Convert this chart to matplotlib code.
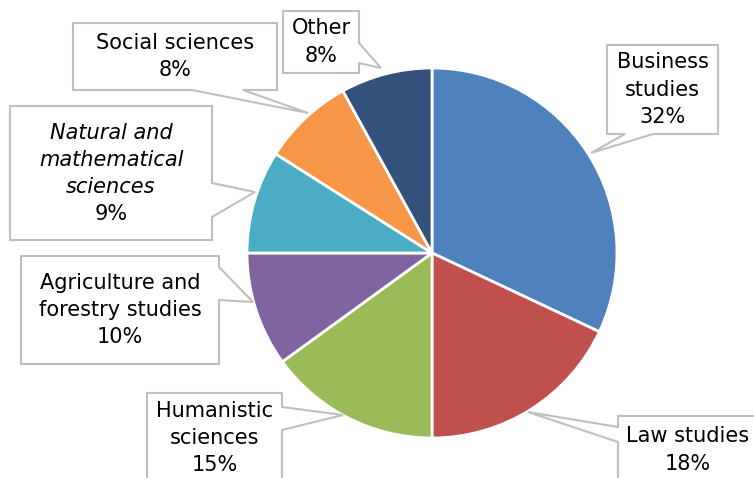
import matplotlib.pyplot as plt
from matplotlib.patches import Polygon

# shares of graduates by field (%)
fields = ["Business studies", "Law studies", "Humanistic sciences",
          "Agriculture and forestry studies", "Natural and mathematical sciences",
          "Social sciences", "Other"]
shares = [32, 18, 15, 10, 9, 8, 8]
colors = ["#4F81BD", "#C0504D", "#9BBB59", "#8064A2", "#4BACC6", "#F79646", "#34517C"]

# callout label texts
label_texts = ["Business\nstudies", "Law studies", "Humanistic\nsciences",
               "Agriculture and\nforestry studies", "Natural and\nmathematical\nsciences",
               "Social sciences", "Other"]

W, H = 754, 478
fig = plt.figure(figsize=(W / 100, H / 100), dpi=100)
ax = fig.add_axes([0, 0, 1, 1])

cx, cy, r = 432, H - 253, 185
ax.pie(shares, colors=colors, startangle=90, counterclock=False,
       center=(cx, cy), radius=r, frame=True,
       wedgeprops=dict(edgecolor="white", linewidth=2))
ax.set_xlim(0, W)
ax.set_ylim(0, H)
ax.set_aspect("equal")
ax.axis("off")

# callout layout in pixel coords (top-left origin): box, pointer side, base, tip
callouts = [
    ((607, 45, 718, 134), "bottom", (625, 653), (591, 153)),
    ((618, 416, 770, 484), "left", (427, 442), (528, 412)),
    ((147, 393, 282, 483), "right", (407, 430), (343, 415)),
    ((21, 256, 219, 364), "right", (267, 300), (253, 302)),
    ((10, 106, 212, 240), "right", (183, 217), (255, 192)),
    ((73, 23, 277, 90), "bottom", (192, 243), (308, 113)),
    ((283, 11, 359, 73), "right", (43, 63), (381, 68)),
]


def callout_poly(box, side, base, tip):
    x0, y0, x1, y1 = box
    a, b = base
    if side == "bottom":
        pts = [(x0, y0), (x1, y0), (x1, y1), (b, y1), tip, (a, y1), (x0, y1)]
    elif side == "right":
        pts = [(x0, y0), (x1, y0), (x1, a), tip, (x1, b), (x1, y1), (x0, y1)]
    else:
        pts = [(x0, y0), (x1, y0), (x1, y1), (x0, y1), (x0, b), tip, (x0, a)]
    return [(x, H - y) for x, y in pts]


fs = 15
ls = 1.45
for i, (box, side, base, tip) in enumerate(callouts):
    ax.add_patch(Polygon(callout_poly(box, side, base, tip), closed=True,
                         facecolor="white", edgecolor="#BFBFBF", linewidth=1.5,
                         zorder=5))
    x0, y0, x1, y1 = box
    tx = (x0 + x1) / 2 if i != 1 else 688
    ty = (y0 + y1) / 2
    pct = f"{shares[i]}%"
    if i == 4:
        ax.text(tx, H - 160, label_texts[i], ha="center", va="center",
                fontsize=fs, style="italic", linespacing=ls, zorder=6)
        ax.text(tx, H - 214, pct, ha="center", va="center", fontsize=fs, zorder=6)
    else:
        ax.text(tx, H - ty, label_texts[i] + "\n" + pct, ha="center", va="center",
                fontsize=fs, linespacing=ls, zorder=6)

fig.savefig("out.png", dpi=100)
